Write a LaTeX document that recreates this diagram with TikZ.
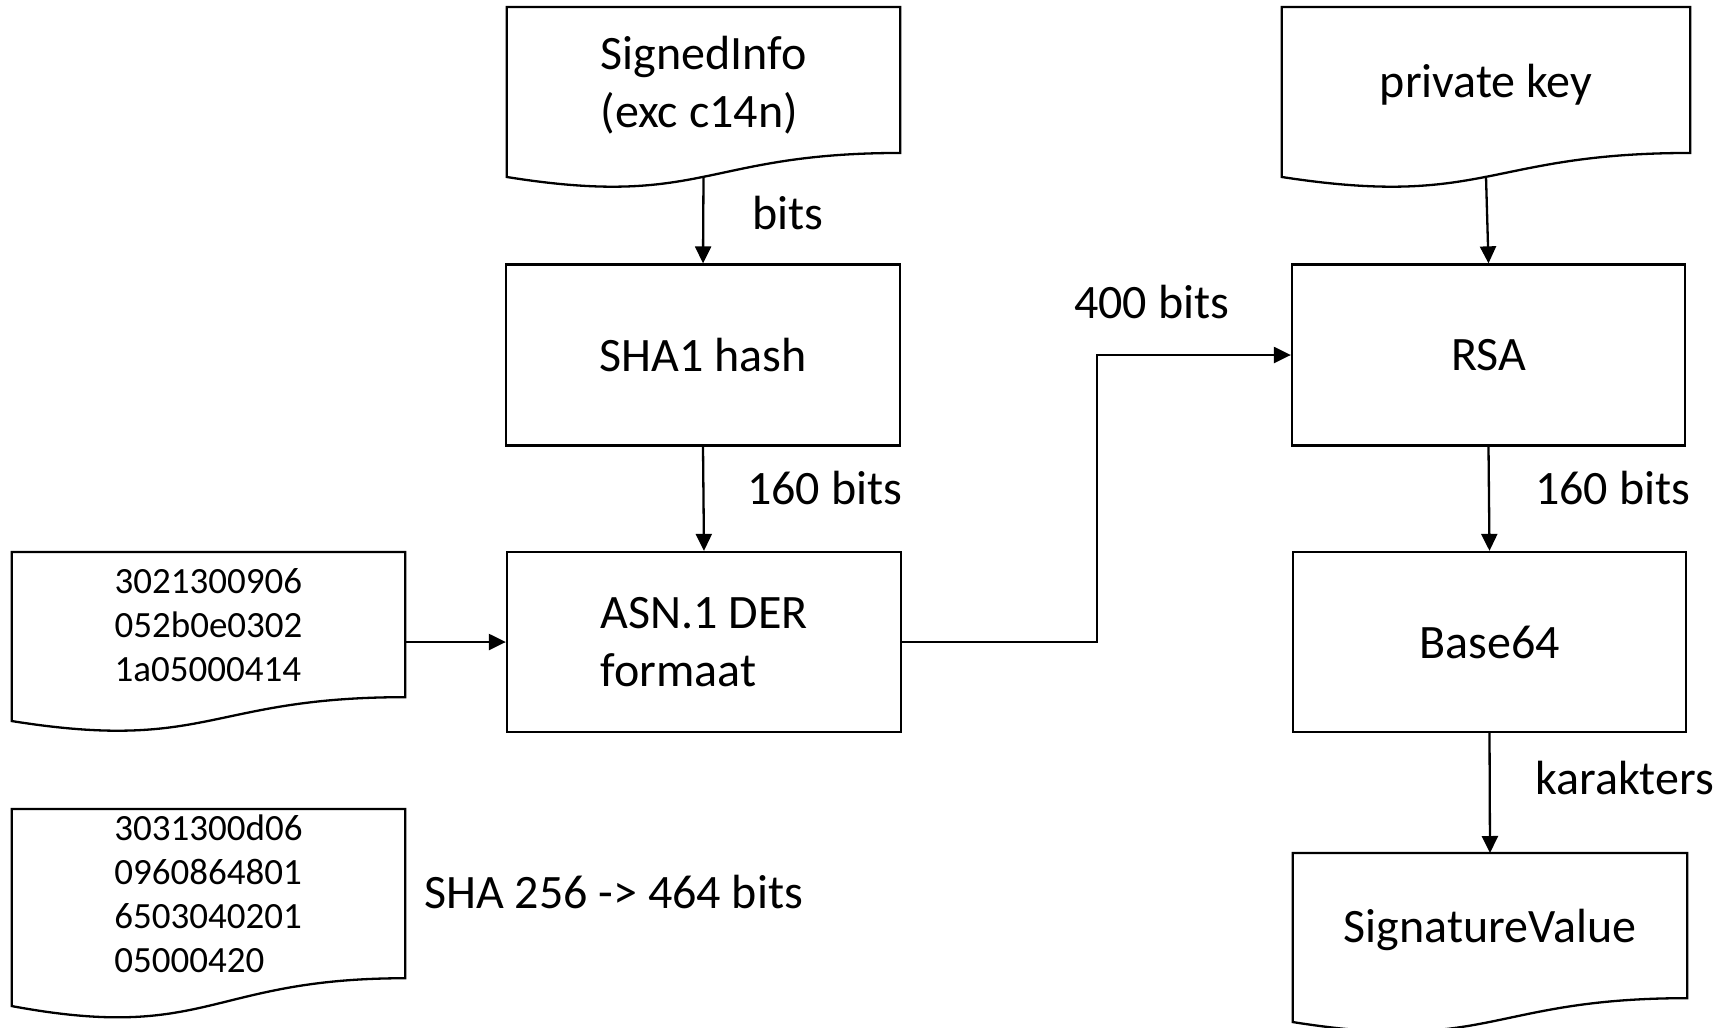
\documentclass[tikz,border=0pt]{standalone}
\usepackage{fontspec}
\setmainfont{Carlito}
\usetikzlibrary{arrows.meta,calc}
% #1 node name, #2 full document height
\newcommand\docwave[2]{%
  \draw[outl] (#1.north west) -- (#1.north east) -- ($(#1.north east)+(0,0.802*#2)$)
    .. controls ($(#1.north)+(0,0.802*#2)$) and ($(#1.north)+(0,1.1075*#2)$) ..
    ($(#1.north west)+(0,0.934*#2)$) -- cycle;}
\tikzset{
  outl/.style={line width=2.3pt, draw=black},
  bigtxt/.style={font=\fontsize{48}{58}\selectfont, align=left},
  hextxt/.style={font=\fontsize{37}{44}\selectfont, align=left},
  docnode/.style={inner sep=0pt, anchor=north},
  procbox/.style={draw=black, line width=2.3pt, inner sep=0pt, bigtxt},
  arr/.style={line width=2.3pt, -{Triangle[length=17pt,width=16pt]}},
  lbl/.style={inner sep=0pt, anchor=base west, font=\fontsize{48}{58}\selectfont}
}
\begin{document}
\begin{tikzpicture}[x=1pt,y=-1pt]
\useasboundingbox[fill=white] (0,0) rectangle (1727,1028);

% documents
\node[docnode, bigtxt, minimum width=393pt, minimum height=155pt] (si) at (703.5,7) {SignedInfo\\(exc c14n)};
\docwave{si}{182}
\node[docnode, bigtxt, minimum width=408pt, minimum height=156pt] (pk) at (1486,7) {private key};
\docwave{pk}{182}
\node[docnode, hextxt, minimum width=393pt, minimum height=145pt] (hx1) at (208.5,552) {3021300906\\052b0e0302\\1a05000414};
\docwave{hx1}{181}
\node[docnode, hextxt, minimum width=393pt, minimum height=169pt] (hx2) at (208.5,809) {3031300d06\\0960864801\\6503040201\\05000420};
\docwave{hx2}{211}
\node[docnode, bigtxt, minimum width=394pt, minimum height=154pt] (sv) at (1490,853) {SignatureValue};
\docwave{sv}{181}

% process boxes
\node[procbox, minimum width=394pt, minimum height=181pt] (sha) at (703,355) {\raisebox{-1.5pt}{SHA1 hash}};
\node[procbox, minimum width=394pt, minimum height=180pt] (asn) at (704,642) {ASN.1 DER\\formaat};
\node[procbox, minimum width=393pt, minimum height=181pt] (rsa) at (1488.5,355) {\raisebox{-1.5pt}{RSA}};
\node[procbox, minimum width=393pt, minimum height=180pt] (b64) at (1489.5,642) {\raisebox{-1.5pt}{Base64}};

% connectors
\coordinate (bend) at (1097,0);
\draw[arr] ($(si.north)+(0,0.933*182)$) -- (sha.north);
\draw[arr] (sha.south) -- (asn.north);
\draw[arr] (hx1.east |- asn.west) -- (asn.west);
\draw[arr] (asn.east) -- (asn.east -| bend) |- (rsa.west);
\draw[arr] ($(pk.north)+(0,0.933*182)$) -- (rsa.north);
\draw[arr] (rsa.south) -- (b64.north);
\draw[arr] (b64.south) -- (sv.north);

% labels
\node[lbl] (l1) at (752,229) {bits};
\node[lbl] (l2) at (747,504) {160 bits};
\node[lbl] (l3) at (1074,318) {400 bits};
\node[lbl] (l4) at (1535,504) {160 bits};
\node[lbl] (l5) at (1535,794) {karakters};
\node[lbl] (l6) at (424,908) {SHA 256 -> 464 bits};
\end{tikzpicture}
\end{document}
